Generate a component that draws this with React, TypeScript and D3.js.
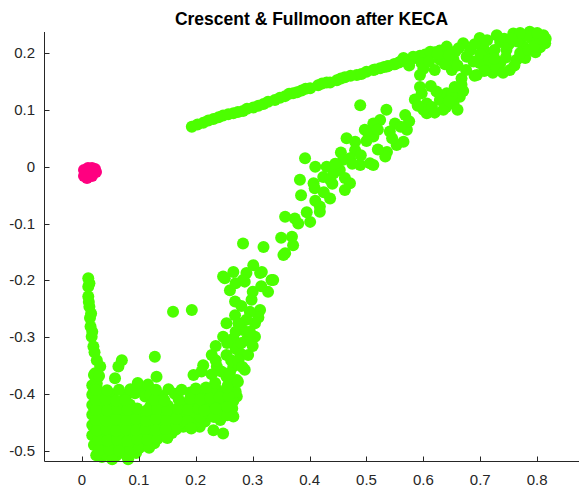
import React from "react";
import * as d3 from "d3";

const chartTitle = "Crescent & Fullmoon after KECA";
const xTicks = [0, 0.1, 0.2, 0.3, 0.4, 0.5, 0.6, 0.7, 0.8];
const yTicks = [-0.5, -0.4, -0.3, -0.2, -0.1, 0, 0.1, 0.2];
const xDomain: [number, number] = [-0.0668, 0.8735];
const yDomain: [number, number] = [-0.5167, 0.2367];

// pink cluster (collapsed group)
const pinkPoints: [number, number][] = [
  [0.0035, -0.0058], [0.0105, -0.0023], [0.0176, -0.0023], [0.0228, -0.004],
  [0.0246, -0.0093], [0.0176, -0.0163], [0.0088, -0.0199], [0.0035, -0.0163],
  [0.0105, -0.011], [0.0158, -0.0093],
];

// upper thin strand
const greenStrand: [number, number][] = [
  [0.193, 0.07], [0.213, 0.077], [0.231, 0.084], [0.248, 0.09], [0.266, 0.094],
  [0.283, 0.098], [0.301, 0.104], [0.319, 0.11], [0.339, 0.117], [0.357, 0.124],
  [0.371, 0.129], [0.386, 0.134], [0.401, 0.138], [0.43, 0.148], [0.448, 0.152],
  [0.462, 0.157], [0.483, 0.161], [0.5, 0.167], [0.524, 0.173], [0.538, 0.177],
  [0.576, 0.188], [0.594, 0.195], [0.612, 0.199], [0.629, 0.204],
  [0.29, 0.102], [0.327, 0.114], [0.364, 0.128], [0.393, 0.137], [0.436, 0.148],
  [0.472, 0.16], [0.491, 0.163], [0.515, 0.171],
  [0.203, 0.074], [0.222, 0.081], [0.24, 0.087], [0.257, 0.092], [0.274, 0.096],
  [0.31, 0.107], [0.348, 0.121], [0.378, 0.131], [0.415, 0.143], [0.422, 0.146],
  [0.455, 0.155], [0.512, 0.17], [0.531, 0.175], [0.548, 0.18], [0.557, 0.183],
  [0.567, 0.186], [0.585, 0.191], [0.603, 0.197], [0.62, 0.201],
];

// top-right cluster
const greenTop: [number, number][] = [
  [0.536, 0.176], [0.594, 0.161], [0.62, 0.17], [0.65, 0.17], [0.667, 0.155],
  [0.694, 0.161], [0.582, 0.193], [0.612, 0.202], [0.641, 0.211], [0.67, 0.217],
  [0.699, 0.226], [0.729, 0.231], [0.758, 0.234], [0.787, 0.237], [0.811, 0.231],
  [0.814, 0.217], [0.717, 0.199], [0.746, 0.205], [0.776, 0.211], [0.799, 0.22],
  [0.735, 0.182], [0.764, 0.188], [0.717, 0.176], [0.699, 0.182], [0.676, 0.193],
  [0.653, 0.188], [0.629, 0.188], [0.682, 0.204], [0.656, 0.202], [0.735, 0.219],
  [0.77, 0.226], [0.752, 0.17], [0.779, 0.191], [0.797, 0.201], [0.597, 0.182],
  [0.56, 0.185], [0.705, 0.21], [0.79, 0.225], [0.805, 0.21], [0.722, 0.165],
  [0.707, 0.168],
  [0.6, 0.172], [0.61, 0.185], [0.625, 0.198], [0.638, 0.18], [0.645, 0.196],
  [0.66, 0.178], [0.662, 0.208], [0.675, 0.17], [0.688, 0.185], [0.69, 0.215],
  [0.7, 0.198], [0.712, 0.222], [0.715, 0.188], [0.725, 0.205], [0.728, 0.175],
  [0.742, 0.225], [0.745, 0.192], [0.75, 0.215], [0.76, 0.178], [0.765, 0.22],
  [0.77, 0.2], [0.782, 0.23], [0.785, 0.205], [0.795, 0.212], [0.805, 0.225],
  [0.815, 0.225], [0.74, 0.165], [0.69, 0.16], [0.575, 0.178], [0.55, 0.18],
  [0.565, 0.191], [0.77, 0.235], [0.8, 0.235], [0.755, 0.225], [0.725, 0.19],
];

// rising middle structure
const greenMiddle: [number, number][] = [
  [0.597, 0.129], [0.606, 0.111], [0.606, 0.094], [0.629, 0.117], [0.653, 0.111],
  [0.664, 0.123], [0.667, 0.144], [0.641, 0.129], [0.623, 0.132], [0.568, 0.091],
  [0.55, 0.076], [0.541, 0.062], [0.524, 0.082], [0.512, 0.076], [0.503, 0.059],
  [0.512, 0.053], [0.571, 0.065], [0.565, 0.044], [0.553, 0.038], [0.536, 0.026],
  [0.533, 0.018], [0.489, 0.108], [0.465, 0.05], [0.48, 0.044], [0.48, 0.029],
  [0.471, 0.015], [0.489, 0.003], [0.506, 0.006], [0.512, 0.003], [0.459, 0.012],
  [0.392, 0.015], [0.43, 0.0], [0.424, -0.018], [0.442, -0.012], [0.453, -0.006],
  [0.462, -0.02], [0.471, -0.029], [0.462, -0.041], [0.436, -0.023], [0.407, -0.029],
  [0.383, -0.023], [0.409, -0.038], [0.436, -0.056], [0.418, -0.07], [0.418, -0.079],
  [0.401, -0.097], [0.374, -0.091], [0.357, -0.088], [0.369, -0.123], [0.371, -0.138],
  [0.357, -0.152], [0.594, 0.14], [0.613, 0.142], [0.65, 0.125], [0.585, 0.118],
  [0.445, 0.005], [0.497, 0.065],
  [0.6, 0.1], [0.615, 0.105], [0.64, 0.105], [0.66, 0.1], [0.67, 0.133],
  [0.655, 0.14], [0.59, 0.107], [0.575, 0.08], [0.56, 0.07], [0.545, 0.05],
  [0.52, 0.065], [0.5, 0.045], [0.49, 0.02], [0.475, 0.005], [0.455, 0.025],
  [0.44, -0.03], [0.425, -0.045], [0.41, -0.06], [0.395, -0.08], [0.38, -0.1],
  [0.52, 0.03], [0.535, 0.1], [0.62, 0.095], [0.635, 0.1], [0.645, 0.115],
  [0.35, -0.125], [0.385, -0.05], [0.41, 0.0],
];

// lower right structure
const greenLowerRight: [number, number][] = [
  [0.283, -0.135], [0.319, -0.141], [0.354, -0.155], [0.248, -0.193], [0.266, -0.185],
  [0.289, -0.187], [0.301, -0.173], [0.316, -0.185], [0.336, -0.199], [0.286, -0.202],
  [0.26, -0.217], [0.327, -0.22], [0.269, -0.237], [0.298, -0.234], [0.313, -0.252],
  [0.269, -0.261], [0.254, -0.275], [0.304, -0.275], [0.289, -0.269], [0.283, -0.287],
  [0.304, -0.299], [0.248, -0.299], [0.266, -0.302], [0.289, -0.305], [0.228, -0.331],
  [0.254, -0.331], [0.278, -0.328], [0.292, -0.331], [0.213, -0.349], [0.196, -0.366],
  [0.237, -0.351], [0.266, -0.351], [0.286, -0.357], [0.254, -0.369], [0.272, -0.375],
  [0.219, -0.398], [0.237, -0.392], [0.26, -0.392], [0.272, -0.404], [0.243, -0.41],
  [0.207, -0.416], [0.19, -0.422], [0.26, -0.422], [0.184, -0.439], [0.219, -0.433],
  [0.243, -0.445], [0.266, -0.439], [0.178, -0.457], [0.207, -0.457], [0.231, -0.463],
  [0.248, -0.469], [0.251, -0.196], [0.313, -0.187], [0.333, -0.199], [0.283, -0.199],
  [0.245, -0.36], [0.262, -0.34], [0.275, -0.34], [0.27, -0.32], [0.3, -0.315],
  [0.295, -0.29], [0.275, -0.275], [0.31, -0.265], [0.295, -0.255], [0.28, -0.245],
  [0.3, -0.22], [0.315, -0.21], [0.27, -0.205], [0.255, -0.31], [0.235, -0.34],
  [0.26, -0.375], [0.228, -0.365], [0.21, -0.36], [0.235, -0.315], [0.28, -0.31],
  [0.27, -0.29],
];

// isolated points in lower left
const greenScattered: [number, number][] = [
  [0.16, -0.255], [0.193, -0.252], [0.07, -0.34], [0.064, -0.351], [0.058, -0.372],
  [0.128, -0.334], [0.131, -0.369], [0.105, -0.389], [0.111, -0.404],
];

// left vertical strand
const greenLeftStrand: [number, number][] = [
  [0.011, -0.196], [0.011, -0.211], [0.011, -0.228], [0.013, -0.246], [0.014, -0.266],
  [0.015, -0.281], [0.017, -0.299], [0.02, -0.316], [0.026, -0.34], [0.032, -0.351],
  [0.023, -0.363], [0.026, -0.381], [0.02, -0.398], [0.026, -0.416], [0.023, -0.433],
  [0.029, -0.451], [0.026, -0.469], [0.032, -0.486], [0.029, -0.504], [0.035, -0.51],
  [0.013, -0.205], [0.012, -0.238], [0.016, -0.258], [0.018, -0.29], [0.022, -0.326],
];

// dense bottom cluster
const greenBottom: [number, number][] = [
  [0.025, -0.507], [0.042, -0.505], [0.06, -0.508], [0.077, -0.506], [0.095, -0.503],
  [0.053, -0.514], [0.081, -0.514],
  [0.021, -0.489], [0.039, -0.49], [0.056, -0.487], [0.074, -0.491], [0.091, -0.488],
  [0.109, -0.49], [0.127, -0.486],
  [0.018, -0.472], [0.035, -0.47], [0.053, -0.474], [0.07, -0.471], [0.088, -0.473],
  [0.105, -0.469], [0.123, -0.472], [0.141, -0.47], [0.158, -0.468],
  [0.018, -0.454], [0.032, -0.455], [0.049, -0.452], [0.067, -0.456], [0.084, -0.453],
  [0.102, -0.45], [0.12, -0.455], [0.137, -0.452], [0.155, -0.456], [0.172, -0.451],
  [0.199, -0.45], [0.216, -0.448],
  [0.018, -0.436], [0.035, -0.438], [0.053, -0.434], [0.07, -0.437], [0.088, -0.435],
  [0.105, -0.439], [0.123, -0.436], [0.141, -0.433], [0.158, -0.437], [0.176, -0.435],
  [0.193, -0.432], [0.225, -0.428], [0.246, -0.43], [0.264, -0.425],
  [0.018, -0.419], [0.032, -0.421], [0.049, -0.417], [0.067, -0.42], [0.084, -0.418],
  [0.12, -0.421], [0.137, -0.417], [0.151, -0.42], [0.181, -0.416], [0.199, -0.418],
  [0.216, -0.415], [0.234, -0.417], [0.251, -0.413], [0.266, -0.412],
  [0.018, -0.401], [0.035, -0.403], [0.053, -0.4], [0.076, -0.402], [0.093, -0.398],
  [0.12, -0.401], [0.141, -0.403], [0.163, -0.399], [0.19, -0.397], [0.207, -0.401],
  [0.228, -0.396], [0.246, -0.4], [0.27, -0.395],
  [0.018, -0.384], [0.025, -0.386], [0.098, -0.38], [0.116, -0.383], [0.234, -0.38],
  [0.257, -0.383], [0.274, -0.378],
  [0.021, -0.366], [0.03, -0.368], [0.26, -0.362], [0.282, -0.352],
  [0.03, -0.498], [0.048, -0.497], [0.065, -0.499], [0.085, -0.497], [0.1, -0.495],
  [0.118, -0.494],
  [0.028, -0.48], [0.045, -0.481], [0.062, -0.479], [0.08, -0.482], [0.097, -0.479],
  [0.115, -0.48], [0.133, -0.478], [0.15, -0.477], [0.165, -0.462],
  [0.026, -0.463], [0.043, -0.462], [0.06, -0.464], [0.078, -0.462], [0.095, -0.463],
  [0.112, -0.461], [0.13, -0.463], [0.147, -0.461], [0.185, -0.447], [0.192, -0.46],
  [0.025, -0.445], [0.042, -0.446], [0.06, -0.444], [0.078, -0.445], [0.095, -0.444],
  [0.113, -0.446], [0.13, -0.444], [0.148, -0.445], [0.166, -0.443], [0.208, -0.44],
  [0.232, -0.44], [0.255, -0.437],
  [0.025, -0.427], [0.044, -0.428], [0.062, -0.426], [0.08, -0.427], [0.097, -0.425],
  [0.114, -0.428], [0.132, -0.426], [0.15, -0.427], [0.168, -0.425], [0.186, -0.427],
  [0.205, -0.425], [0.215, -0.428], [0.235, -0.425], [0.255, -0.422],
  [0.025, -0.41], [0.042, -0.409], [0.06, -0.411], [0.077, -0.41], [0.128, -0.41],
  [0.145, -0.411], [0.17, -0.409], [0.19, -0.408], [0.208, -0.409], [0.225, -0.407],
  [0.242, -0.405], [0.258, -0.403],
  [0.025, -0.392], [0.044, -0.393], [0.065, -0.392], [0.085, -0.391], [0.13, -0.392],
  [0.152, -0.391], [0.175, -0.392], [0.2, -0.39], [0.218, -0.388], [0.255, -0.388],
];

const greenPoints: [number, number][] = [
  ...greenStrand, ...greenTop, ...greenMiddle, ...greenLowerRight,
  ...greenScattered, ...greenLeftStrand, ...greenBottom,
];

const W = 579;
const H = 491;
const left = 44;
const right = 579;
const top = 32;
const bottom = 460.7;
const GREEN = "#4cff00";
const PINK = "#ff0080";
const AXIS = "#262626";
const FONT = "'Liberation Sans', Arial, Helvetica, sans-serif";

function fmt(t: number) {
  if (Math.abs(t) < 1e-9) return "0";
  return String(+t.toFixed(1));
}

export default function App() {
  const x = d3.scaleLinear().domain(xDomain).range([left, right]);
  const y = d3.scaleLinear().domain(yDomain).range([bottom, top]);
  const r = 6;
  const axY = Math.round(bottom) + 0.5;
  const axX = left + 0.5;
  return (
    <svg
      width={W}
      height={H}
      style={{ position: "absolute", left: 0, top: 0, background: "#fff" }}
      fontFamily={FONT}
    >
      <rect x={0} y={0} width={W} height={H} fill="#fff" />
      <g>
        {greenPoints.map((p, i) => (
          <circle key={"g" + i} cx={x(p[0])} cy={y(p[1])} r={r} fill={GREEN} />
        ))}
        {pinkPoints.map((p, i) => (
          <circle key={"p" + i} cx={x(p[0])} cy={y(p[1])} r={r} fill={PINK} />
        ))}
      </g>
      <line x1={axX} x2={axX} y1={top} y2={axY} stroke={AXIS} strokeWidth={1} />
      <line x1={axX} x2={right} y1={axY} y2={axY} stroke={AXIS} strokeWidth={1} />
      {xTicks.map((t) => (
        <g key={"xt" + t}>
          <line x1={Math.round(x(t)) + 0.5} x2={Math.round(x(t)) + 0.5} y1={axY} y2={axY - 5} stroke={AXIS} />
          <text x={x(t)} y={485} textAnchor="middle" fontSize={15} fill={AXIS}>
            {fmt(t)}
          </text>
        </g>
      ))}
      {yTicks.map((t) => (
        <g key={"yt" + t}>
          <line x1={axX} x2={axX + 5} y1={Math.round(y(t)) + 0.5} y2={Math.round(y(t)) + 0.5} stroke={AXIS} />
          <text x={35} y={y(t) + 5} textAnchor="end" fontSize={15} fill={AXIS}>
            {fmt(t)}
          </text>
        </g>
      ))}
      <text x={(left + right) / 2} y={25} textAnchor="middle" fontSize={17.5} fontWeight="bold" fill="#000">
        {chartTitle}
      </text>
    </svg>
  );
}
